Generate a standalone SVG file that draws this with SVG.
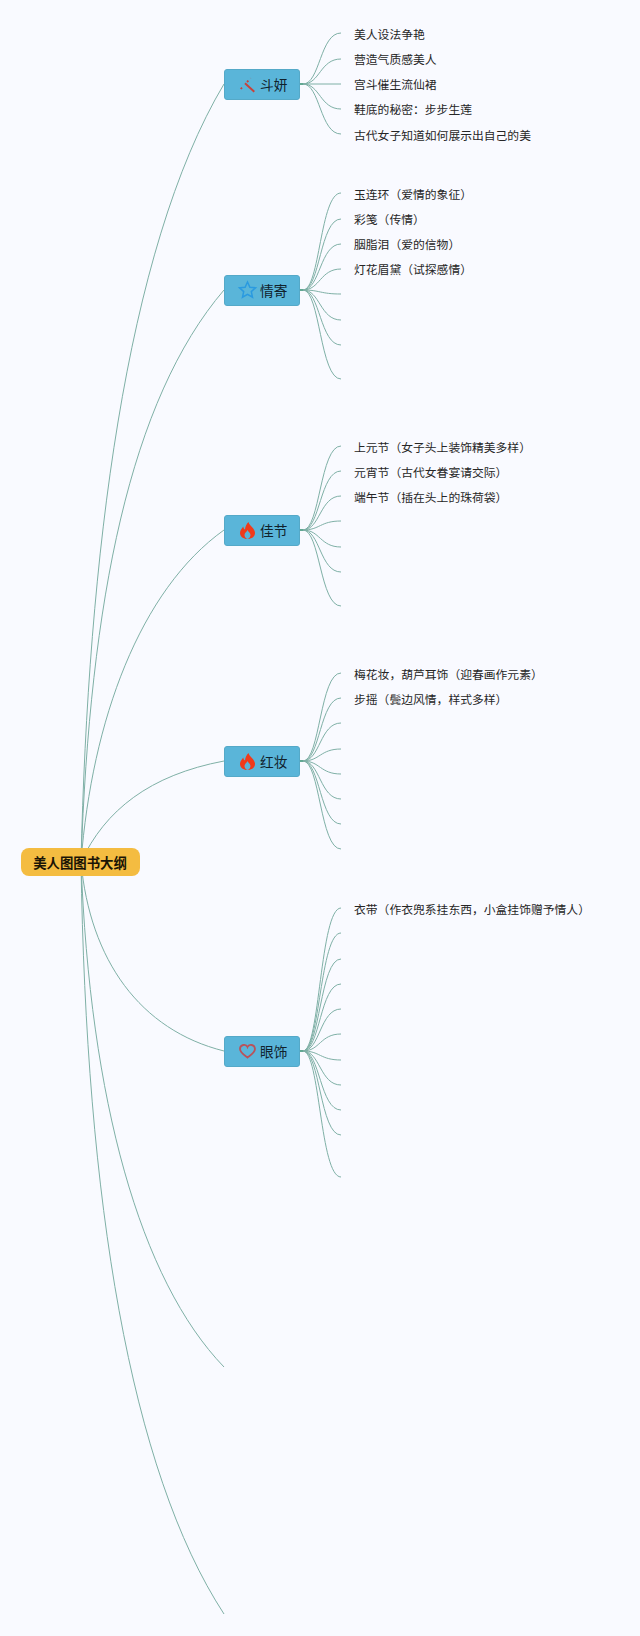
<svg xmlns="http://www.w3.org/2000/svg" width="640" height="1636" viewBox="0 0 640 1636">
<style>
text{font-family:"Noto Sans CJK SC","Liberation Sans",sans-serif;fill:#262626}
.leaf{font-size:11.8px}
.lbl{font-size:13.7px;fill:#10222c}
.root{font-size:13.4px;font-weight:700;fill:#1a1405}
.n{fill:#5ab5d9;stroke:#55a9c8;stroke-width:1}
.c path{fill:none;stroke:#7fb0a6;stroke-width:1}
.s{stroke:#62a893!important;stroke-width:2!important}
</style>
<defs>
<g id="flame"><path d="M248.500 522c.5 3.500 6.500 6 6.500 11 0 3.800-3.500 6-7.500 6s-7.500-2.200-7.500-6c0-3 2-4.500 3.200-6.500.3 1.500.8 2.500 1.800 3 .2-2.800 1.500-5.500 3.500-7.500z" fill="#f03a1a"/><path d="M247.500 530c.5 1.500 3 3 3 5 0 1.500-1.300 4-3 4s-3-2.500-3-4c0-2 2.500-3.500 3-5z" fill="#5ab5d9"/></g>
</defs>
<rect width="640" height="1636" fill="#f9faff"/>
<g id="connectors" class="c">
<path d="M81 862C88 560 125 250 224 84"/>
<path d="M81 862C90 600 130 400 224 290"/>
<path d="M81 862C92 720 140 590 224 530"/>
<path d="M81 862C105 810 150 775 224 761"/>
<path d="M81 862C90 960 140 1030 224 1051"/>
<path d="M81 862C90 1100 140 1280 224 1367"/>
<path d="M81 862C86 1200 130 1470 224 1614"/>
<path class="s" d="M300 84h4"/><path class="s" d="M300 290h4"/><path class="s" d="M300 530h4"/><path class="s" d="M300 761h4"/><path class="s" d="M300 1051h4"/>
<path d="M303 84C320 84 320 33 341 33"/><path d="M303 84C320 84 320 59 341 59"/><path d="M303 84H341"/><path d="M303 84C320 84 320 109 341 109"/><path d="M303 84C320 84 320 134 341 134"/>
<path d="M303 290C320 290 320 193 341 193"/><path d="M303 290C320 290 320 219 341 219"/><path d="M303 290C320 290 320 244 341 244"/><path d="M303 290C320 290 320 269 341 269"/><path d="M303 290C320 290 320 294 341 294"/><path d="M303 290C320 290 320 320 341 320"/><path d="M303 290C320 290 320 345 341 345"/><path d="M303 290C320 290 320 379 341 379"/>
<path d="M303 530C320 530 320 446 341 446"/><path d="M303 530C320 530 320 471 341 471"/><path d="M303 530C320 530 320 496 341 496"/><path d="M303 530C320 530 320 521 341 521"/><path d="M303 530C320 530 320 547 341 547"/><path d="M303 530C320 530 320 572 341 572"/><path d="M303 530C320 530 320 606 341 606"/>
<path d="M303 761C320 761 320 673 341 673"/><path d="M303 761C320 761 320 698 341 698"/><path d="M303 761C320 761 320 723 341 723"/><path d="M303 761C320 761 320 749 341 749"/><path d="M303 761C320 761 320 774 341 774"/><path d="M303 761C320 761 320 799 341 799"/><path d="M303 761C320 761 320 824 341 824"/><path d="M303 761C320 761 320 849 341 849"/>
<path d="M303 1051C320 1051 320 908 341 908"/><path d="M303 1051C320 1051 320 933 341 933"/><path d="M303 1051C320 1051 320 959 341 959"/><path d="M303 1051C320 1051 320 984 341 984"/><path d="M303 1051C320 1051 320 1009 341 1009"/><path d="M303 1051C320 1051 320 1034 341 1034"/><path d="M303 1051C320 1051 320 1060 341 1060"/><path d="M303 1051C320 1051 320 1085 341 1085"/><path d="M303 1051C320 1051 320 1110 341 1110"/><path d="M303 1051C320 1051 320 1135 341 1135"/><path d="M303 1051C320 1051 320 1177 341 1177"/>
</g>
<g id="root"><rect x="21" y="848" width="119" height="28" rx="8" fill="#f4bc41"/><text class="root" x="80" y="867.500" text-anchor="middle">美人图图书大纲</text></g>
<g id="n1"><rect class="n" x="224.500" y="69.500" width="75" height="30" rx="2.500"/><text class="lbl" x="260" y="89.500">斗妍</text>
<path d="M245 83.300L254.300 91.700" fill="none" stroke="#c8413a" stroke-width="2"/><path d="M240.700 89l3-3.200M247 82l3.700-3.700" fill="none" stroke="#c8413a" stroke-width="1.800" stroke-dasharray="2 3"/></g>
<g id="n2"><rect class="n" x="224.500" y="275.500" width="75" height="30" rx="2.500"/><text class="lbl" x="260" y="295.500">情寄</text>
<path d="M247.500 282l2.400 5.200 5.600.6-4.200 3.800 1.200 5.600-5-2.900-5 2.900 1.200-5.600-4.200-3.800 5.600-.6z" fill="none" stroke="#2a9ae0" stroke-width="1.500"/></g>
<g id="n3"><rect class="n" x="224.500" y="515.500" width="75" height="30" rx="2.500"/><text class="lbl" x="260" y="535.500">佳节</text>
<use href="#flame"/></g>
<g id="n4"><rect class="n" x="224.500" y="746.500" width="75" height="30" rx="2.500"/><text class="lbl" x="260" y="766.500">红妆</text>
<use href="#flame" y="231"/></g>
<g id="n5"><rect class="n" x="224.500" y="1036.500" width="75" height="30" rx="2.500"/><text class="lbl" x="260" y="1056.500">眼饰</text>
<path d="M247.500 1057.500c-3-2.300-7.500-5-7.500-8.500 0-4.500 6-5.500 7.500-2 1.500-3.500 7.500-2.500 7.500 2 0 3.500-4.500 6.200-7.500 8.500z" fill="none" stroke="#b9525a" stroke-width="1.800"/></g>
<g id="leaves" class="leaf">
<text x="354" y="39">美人设法争艳</text><text x="354" y="64">营造气质感美人</text><text x="354" y="89">宫斗催生流仙裙</text><text x="354" y="114">鞋底的秘密：步步生莲</text><text x="354" y="139.500">古代女子知道如何展示出自己的美</text>
<text x="354" y="198.500">玉连环（爱情的象征）</text><text x="354" y="224">彩笺（传情）</text><text x="354" y="249">胭脂泪（爱的信物）</text><text x="354" y="274">灯花眉黛（试探感情）</text>
<text x="354" y="451.500">上元节（女子头上装饰精美多样）</text><text x="354" y="476.500">元宵节（古代女眷宴请交际）</text><text x="354" y="501.500">端午节（插在头上的珠荷袋）</text>
<text x="354" y="678.500">梅花妆，葫芦耳饰（迎春画作元素）</text><text x="354" y="703.500">步摇（鬓边风情，样式多样）</text>
<text x="354" y="913.500">衣带（作衣兜系挂东西，小盒挂饰赠予情人）</text>
</g>
</svg>
